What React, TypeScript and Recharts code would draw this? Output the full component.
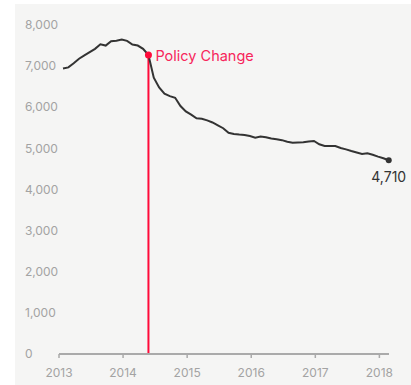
import React from "react";
import { LineChart, Line, XAxis, YAxis, ReferenceLine, ReferenceDot } from "recharts";

// Monthly values, Jan 2013 – Feb 2018
const values = [
  6940, 6970, 7070, 7180, 7260, 7340, 7420, 7530, 7500, 7605, 7618, 7645,
  7615, 7525, 7500, 7420, 7270, 6720, 6480, 6330, 6270, 6230, 6030, 5900,
  5820, 5730, 5720, 5680, 5630, 5560, 5490, 5380, 5350, 5335, 5325, 5300,
  5260, 5290, 5270, 5240, 5220, 5200, 5160, 5135, 5140, 5147, 5165, 5180,
  5100, 5058, 5058, 5058, 5010, 4975, 4935, 4900, 4865, 4880, 4845, 4800,
  4760, 4710,
];
const startYear = 2013;
const yearTicks = [2013, 2014, 2015, 2016, 2017, 2018];
const valueTicks = [0, 1000, 2000, 3000, 4000, 5000, 6000, 7000, 8000];
const policyIndex = 16; // May 2014
const policyLabel = "Policy Change";

const data = values.map((v, i) => ({ t: startYear + (i + 0.75) / 12, v }));
const policy = data[policyIndex];
const last = data[data.length - 1];

const FONT = "Inter, 'Open Sans', sans-serif";

const YTick = (props: any) => {
  const { y, payload } = props;
  return (
    <text x={25} y={y} dy="0.35em" textAnchor="start" fill="#a3a3a3" fontSize={12} fontFamily={FONT}>
      {Number(payload.value).toLocaleString("en-US")}
    </text>
  );
};

const PolicyLabel = (props: any) => {
  const { viewBox } = props;
  const cx = viewBox.x + viewBox.width / 2;
  const cy = viewBox.y + viewBox.height / 2;
  return (
    <text x={cx + 7} y={cy + 5.5} fill="#f7265b" fontSize={14.5} fontFamily={FONT}>
      {policyLabel}
    </text>
  );
};

const EndLabel = (props: any) => {
  const { viewBox } = props;
  const cx = viewBox.x + viewBox.width / 2;
  const cy = viewBox.y + viewBox.height / 2;
  return (
    <text x={cx} y={cy + 22} textAnchor="middle" fill="#333" fontSize={14} fontFamily={FONT}>
      {last.v.toLocaleString("en-US")}
    </text>
  );
};

export default function App() {
  return (
    <div style={{ position: "absolute", left: 0, top: 0, width: 411, height: 385, background: "#fff" }}>
      <div style={{ position: "absolute", left: 15, top: 4, width: 396, height: 381, background: "#f5f5f4" }} />
      <div style={{ position: "absolute", left: 0, top: 0 }}>
        <LineChart width={411} height={385} data={data} margin={{ top: 25, right: 22, bottom: 0, left: 0 }}>
          <XAxis
            dataKey="t"
            type="number"
            domain={[2013, 2018.15]}
            ticks={yearTicks}
            allowDataOverflow
            height={31}
            axisLine={{ stroke: "#aaa", strokeWidth: 2 }}
            tickLine={{ stroke: "#aaa", strokeWidth: 1.5 }}
            tickSize={4}
            tickMargin={10}
            tick={{ fill: "#a3a3a3", fontSize: 12, fontFamily: FONT }}
          />
          <YAxis
            type="number"
            domain={[0, 8000]}
            ticks={valueTicks}
            width={59}
            axisLine={false}
            tickLine={false}
            tick={<YTick />}
          />
          <ReferenceLine
            segment={[{ x: policy.t, y: 0 }, { x: policy.t, y: policy.v }]}
            stroke="#ff0a3a"
            strokeWidth={2}
          />
          <Line
            type="linear"
            dataKey="v"
            stroke="#333"
            strokeWidth={2}
            dot={false}
            isAnimationActive={false}
          />
          <ReferenceDot x={policy.t} y={policy.v} r={3.5} fill="#ff0a3a" stroke="none" label={<PolicyLabel />} />
          <ReferenceDot x={last.t} y={last.v} r={3} fill="#333" stroke="none" label={<EndLabel />} />
        </LineChart>
      </div>
    </div>
  );
}
